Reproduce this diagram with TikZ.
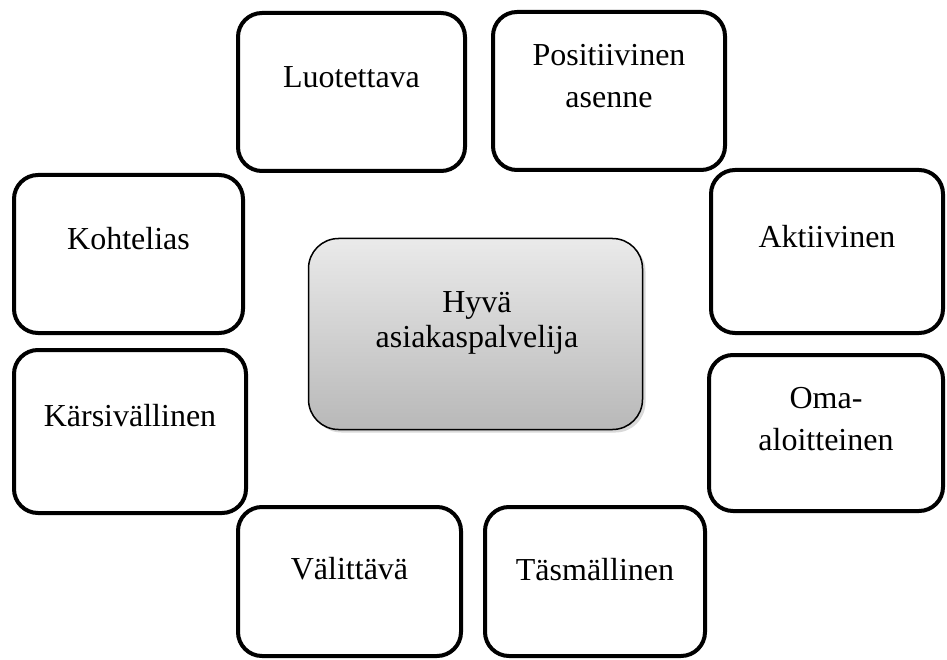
\documentclass[tikz,border=0pt]{standalone}
\usepackage{fontspec}
\setmainfont{Liberation Serif}
\usetikzlibrary{shadows}

\definecolor{hubtop}{HTML}{EAEAEA}
\definecolor{hubbot}{HTML}{B8B8B8}

\begin{document}
\begin{tikzpicture}[
  x=1pt, y=-1pt,
  card/.style={draw, line width=4pt, rounded corners=24pt, inner sep=0pt},
  hub/.style={draw, line width=1.5pt, rounded corners=30pt, inner sep=0pt,
    top color=hubtop, bottom color=hubbot,
    drop shadow={shadow xshift=3pt, shadow yshift=-3pt, opacity=.3}},
  txt/.style={align=center, inner sep=0pt, font=\fontsize{32}{42}\selectfont}
]
\useasboundingbox (0,0) rectangle (947,660);

\node[hub, minimum width=334pt, minimum height=191pt] (hyva) at (475.5,334) {};
\node[txt, font=\fontsize{32}{35}\selectfont] (hyvat) at (477,323) {Hyvä\\asiakaspalvelija};

\node[card, minimum width=227pt, minimum height=158pt] (luot) at (351.5,92) {};
\node[txt] (luott) at (351.5,77) {Luotettava};

\node[card, minimum width=232pt, minimum height=158pt] (posi) at (609,91) {};
\node[txt] (posit) at (609,76) {Positiivinen\\asenne};

\node[card, minimum width=229pt, minimum height=158pt] (koht) at (128.5,254) {};
\node[txt] (kohtt) at (128.5,239) {Kohtelias};

\node[card, minimum width=232pt, minimum height=163pt] (akti) at (827,251.5) {};
\node[txt] (aktit) at (827,237) {Aktiivinen};

\node[card, minimum width=232pt, minimum height=163pt] (kars) at (130,431.5) {};
\node[txt] (karst) at (130,416) {Kärsivällinen};

\node[card, minimum width=234pt, minimum height=156pt] (omaa) at (826,433) {};
\node[txt] (omaat) at (826,419) {Oma-\\aloitteinen};

\node[card, minimum width=223pt, minimum height=149pt] (vali) at (349.5,581.5) {};
\node[txt] (valit) at (349.5,569) {Välittävä};

\node[card, minimum width=220pt, minimum height=149pt] (tasm) at (595,581.5) {};
\node[txt] (tasmt) at (595,570) {Täsmällinen};
\end{tikzpicture}
\end{document}
